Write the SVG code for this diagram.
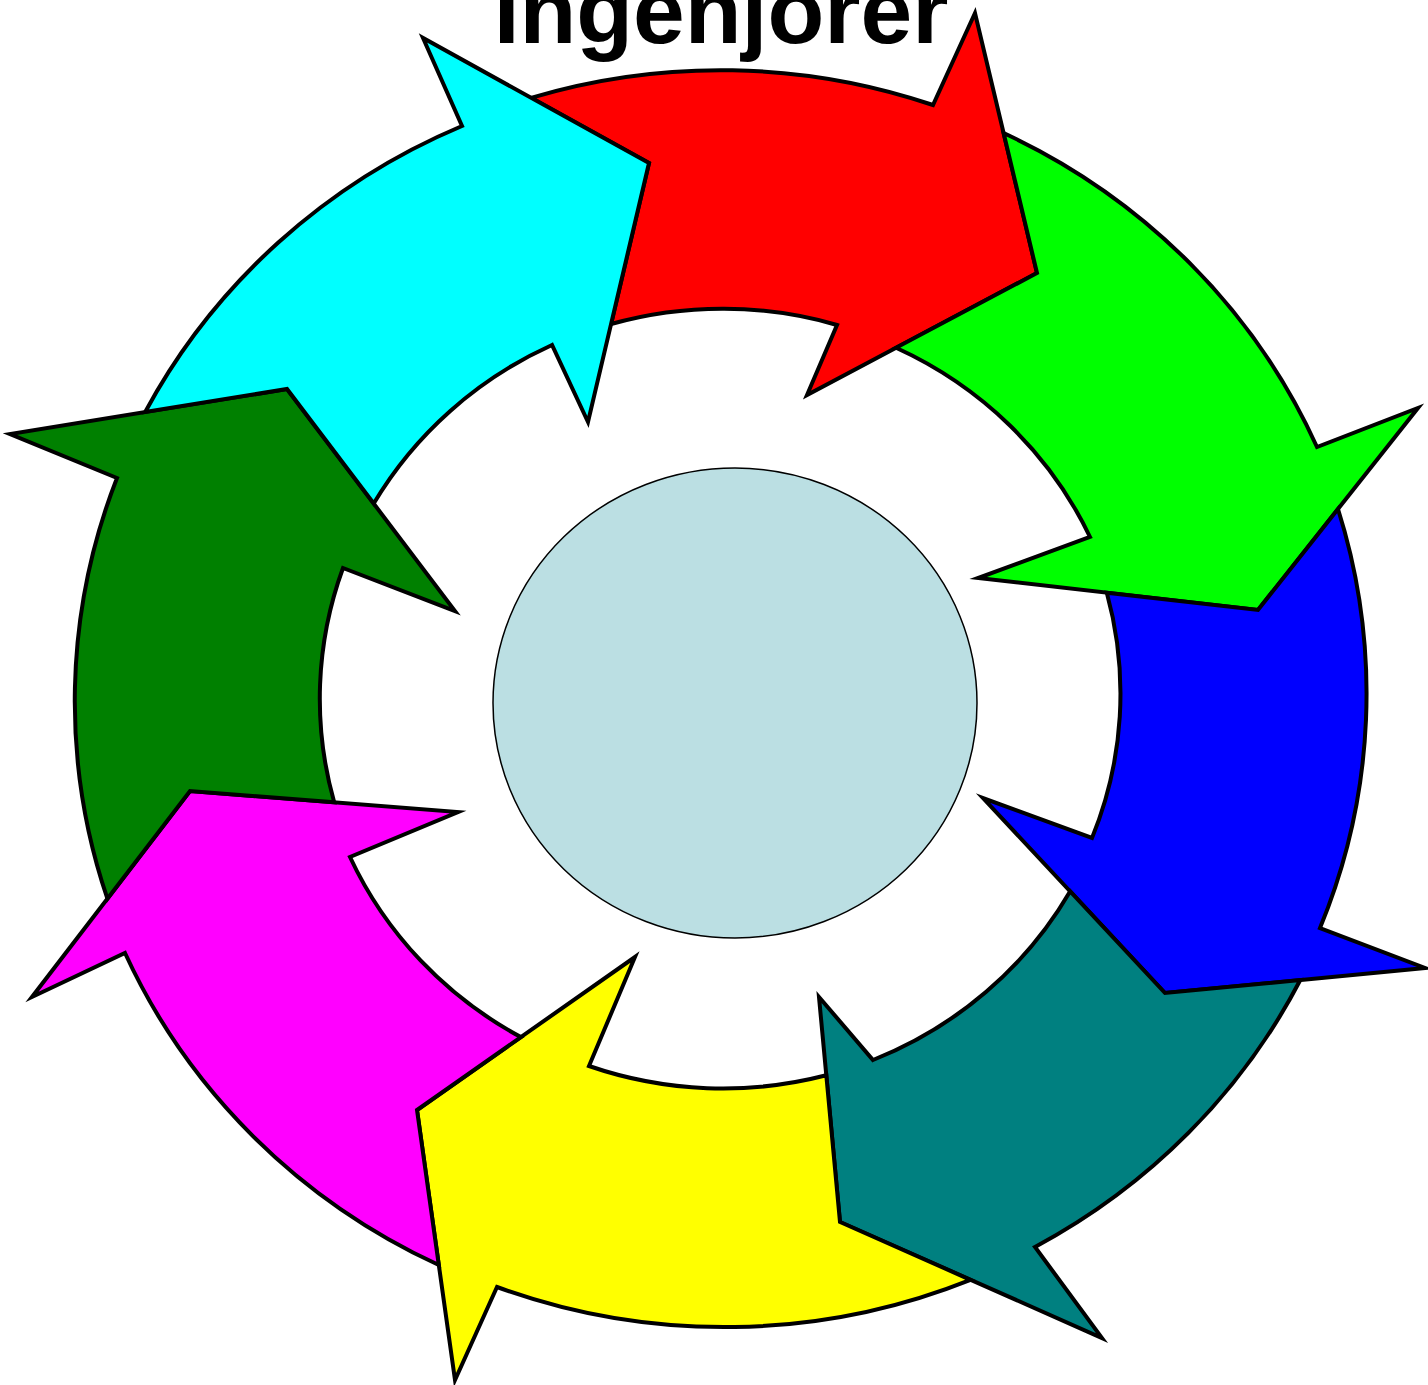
<svg xmlns="http://www.w3.org/2000/svg" width="1428" height="1385" viewBox="0 0 1428 1385">
<style>
.arrow{stroke:#000;stroke-width:4;stroke-linejoin:miter;stroke-miterlimit:10}
.title{font-family:"Liberation Sans",Arial,sans-serif;font-weight:bold;font-size:93px;fill:#000}
</style>
<rect x="0" y="0" width="1428" height="1385" fill="#fff"/>
<g id="arrow-red"><path class="arrow" fill="#ff0000" d="M531,97.8 A647,629 0 0 1 933,105 L975,13 L1037,273 L807,395 L837,325 A401,390 0 0 0 611.1,324 L649,163 Z"/></g>
<g id="arrow-lime"><path class="arrow" fill="#00ff00" d="M1003.6,133 A647,629 0 0 1 1317,447 L1418,408 L1258,610 L978,578 L1090,537 A401,390 0 0 0 896,347.8 L1037,273 Z"/></g>
<g id="arrow-blue"><path class="arrow" fill="#0000ff" d="M1338,509 A647,629 0 0 1 1320,928 L1425,968 L1165,993 L983,798 L1092,838 A401,390 0 0 0 1106.8,592.7 L1258,610 Z"/></g>
<g id="arrow-teal"><path class="arrow" fill="#008080" d="M1300.3,980 A647,629 0 0 1 1035,1247 L1102,1338 L840,1222 L819,997 L873,1060 A401,390 0 0 0 1070.2,891.3 L1165,993 Z"/></g>
<g id="arrow-yellow"><path class="arrow" fill="#ffff00" d="M970.5,1279.8 A647,629 0 0 1 497,1287 L455,1380 L417,1110 L635,957 L589,1066 A401,390 0 0 0 826.3,1075.3 L840,1222 Z"/></g>
<g id="arrow-magenta"><path class="arrow" fill="#ff00ff" d="M438.8,1265 A647,629 0 0 1 125,953 L32,997 L190,791 L458,812 L350,857 A401,390 0 0 0 520.9,1037.1 L417,1110 Z"/></g>
<g id="arrow-green"><path class="arrow" fill="#008000" d="M107.4,898.7 A647,629 0 0 1 117,478 L10,434 L287,389 L455,611 L343,568 A401,390 0 0 0 334.2,802.3 L190,791 Z"/></g>
<g id="arrow-cyan"><path class="arrow" fill="#00ffff" d="M145.2,412 A647,629 0 0 1 462,126 L423,38 L649,163 L588,422 L552,345 A401,390 0 0 0 373.7,503.5 L287,389 Z"/></g>
<g id="center"><ellipse cx="735" cy="703" rx="242" ry="235" fill="#bbdfe3" stroke="#000" stroke-width="1.5"/></g>
<g id="title"><text class="title" x="721" y="43" text-anchor="middle">Ingenjörer</text></g>
<g id="connectors"></g>
</svg>
